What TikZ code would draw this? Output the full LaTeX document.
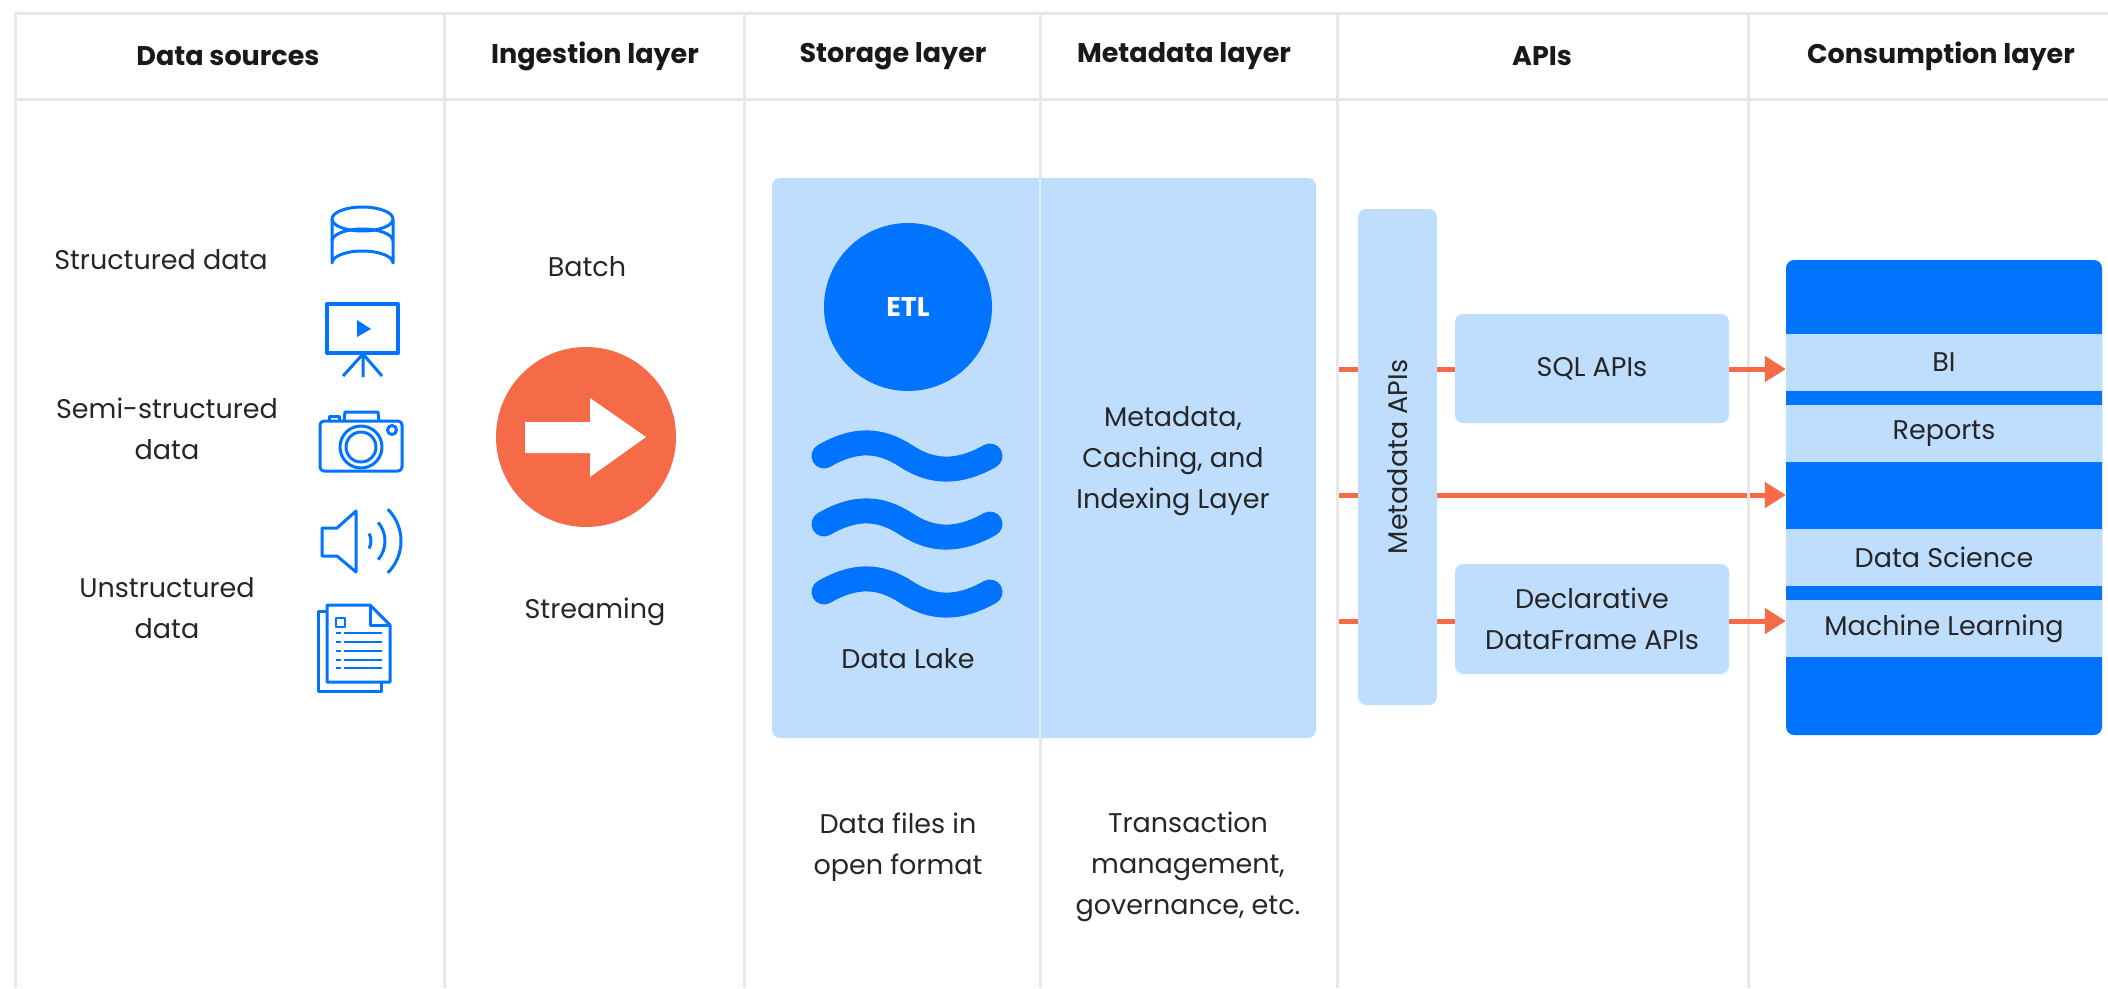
\documentclass[tikz,border=0pt]{standalone}
\usepackage{fontspec}
\setmainfont{Poppins}
\usepackage{xcolor}
\usetikzlibrary{arrows.meta, positioning, calc, backgrounds}
\definecolor{paleblue}{HTML}{BFDEFD}
\definecolor{deepblue}{HTML}{0073FF}
\definecolor{coral}{HTML}{F56B47}
\definecolor{gridgrey}{HTML}{E8E8E8}
\tikzstyle{HEAD}  = [font=\fontsize{27}{32}\selectfont\bfseries, text=black!90]
\tikzstyle{LABEL} = [align=center, font=\fontsize{27}{41}\selectfont, text=black!85]
\tikzstyle{BOX}   = [fill=paleblue,         % light panels
                     rounded corners=8pt,
                     inner sep=0pt,
                     align=center,
                     font=\fontsize{27}{41}\selectfont,
                     text=black!85]
\tikzstyle{STRIP} = [fill=paleblue,         % bands in the consumption block
                     inner sep=0pt,
                     minimum width=316pt, minimum height=57pt,
                     font=\fontsize{27}{32}\selectfont,
                     text=black!85]
\tikzstyle{ICON}  = [draw=deepblue, line width=3pt, line join=round]
\tikzstyle{WAVE}  = [draw=deepblue, line width=25pt, line cap=round]
\tikzstyle{ARROW} = [draw=coral, line width=5pt, -{Triangle[length=21pt,width=25pt]}]
\tikzstyle{LINK}  = [draw=coral, line width=5pt]

\begin{document}
\begin{tikzpicture}[x=1pt, y=-1pt]
	\useasboundingbox (0,0) rectangle (2108,988);

	% Table lines
	\draw[gridgrey, line width=3pt] (15,13) -- (2108,13);
	\draw[gridgrey, line width=3pt] (15,99) -- (2108,99);
	\foreach \x in {15,444,744,1040,1337,1748}
		\draw[gridgrey, line width=3pt] (\x,13) -- (\x,988);

	% Column heads
	\node(hsrc)[HEAD] at (228,56) {Data sources};
	\node(hing)[HEAD] at (595,56) {Ingestion layer};
	\node(hsto)[HEAD] at (893,56) {Storage layer};
	\node(hmet)[HEAD] at (1184,56) {Metadata layer};
	\node(hapi)[HEAD] at (1542,56) {APIs};
	\node(hcon)[HEAD] at (1941,56) {Consumption layer};

	% Data sources
	\node(structured)[LABEL] at (161,260) {Structured data};
	\node(semi)[LABEL] at (167,429) {Semi-structured\\data};
	\node(unstructured)[LABEL] at (167,608) {Unstructured\\data};

	% Database icon
	\draw[ICON] (332,219) -- (332,263) arc (180:0:30.5 and -12) -- (393,219);
	\draw[ICON] (362.5,219) ellipse (30.5 and 12);
	\draw[ICON] (332,241) arc (180:0:30.5 and -12);
	% Screen icon
	\draw[ICON, line width=4pt] (327,304) rectangle (398,353);
	\fill[deepblue] (357,320) -- (371,329) -- (357,337) -- cycle;
	\draw[ICON] (363,354) -- (343,376) (363,354) -- (363,377) (363,354) -- (382,376);
	% Camera icon
	\draw[ICON, rounded corners=4pt] (320,421) rectangle (402,471);
	\draw[ICON] (344,421) -- (345,412) -- (378,412) -- (379,421);
	\draw[ICON] (329,421) -- (329,416) -- (339,416) -- (339,421);
	\draw[ICON] (361,447) circle (21) (361,447) circle (15);
	\draw[ICON] (392,430) circle (4.5);
	% Speaker icon
	\coordinate (spk) at (356,541);
	\draw[ICON] (322,528) -- (337,528) -- (spk |- 0,511) -- (spk |- 0,572) -- (337,556) -- (322,556) -- cycle;
	\draw[ICON] ($(spk)+(-30:15)$) arc (-30:30:15);
	\draw[ICON] ($(spk)+(-40:29)$) arc (-40:40:29);
	\draw[ICON] ($(spk)+(-45:45)$) arc (-45:45:45);
	% Document icon
	\draw[ICON] (327,611) -- (318,611) -- (318,691) -- (381,691) -- (381,682);
	\draw[ICON] (327,605) -- (370,605) -- (390,625) -- (390,682) -- (327,682) -- cycle;
	\draw[ICON] (370,605) -- (370,625) -- (390,625);
	\draw[ICON, line width=2pt] (336,618) rectangle (345,627);
	\foreach \y in {633,642,651,660,668} {
		\draw[ICON, line width=2pt] (336,\y) -- (341,\y);
		\draw[ICON, line width=2pt] (344,\y) -- (382,\y);
	}

	% Ingestion
	\node(batch)[LABEL] at (587,267) {Batch};
	\node(ingest)[circle, fill=coral, minimum size=180pt, inner sep=0pt] at (586,437) {};
	\fill[white] (525,422) -- (590,422) -- (590,398) -- (646,437) -- (590,477) -- (590,453) -- (525,453) -- cycle;
	\node(stream)[LABEL] at (595,612) {Streaming};

	% Storage and metadata panel
	\node(lake)[BOX, minimum width=544pt, minimum height=560pt] at (1044,458) {};
	\draw[white!50!paleblue, line width=2pt] (1040,178) -- (1040,738);
	\node(etl)[circle, fill=deepblue, text=white, minimum size=168pt, inner sep=0pt,
		font=\fontsize{27}{32}\selectfont\bfseries] at (908,307) {ETL};
	\foreach \y in {456,524,592}
		\draw[WAVE] (824,\y) .. controls (855,\y-18) and (880,\y-17) .. (906,\y)
			.. controls (932,\y+17) and (958,\y+18) .. (990,\y);
	\node(lakename)[LABEL] at (908,659) {Data Lake};
	\node(cache)[LABEL] at (1173,461) {Metadata,\\Caching, and\\Indexing Layer};
	\node(files)[LABEL] at (898,847) {Data files in\\open format};
	\node(trans)[LABEL] at (1188,867) {Transaction\\management,\\governance, etc.};

	% APIs
	\node(metaapi)[BOX, minimum width=79pt, minimum height=496pt] at (1397.5,457) {};
	\node(metaname)[rotate=90, font=\fontsize{27}{32}\selectfont, text=black!85] at (metaapi) {Metadata APIs};
	\node(sql)[BOX, minimum width=274pt, minimum height=109pt] at (1592,368.5) {SQL APIs};
	\node(frame)[BOX, minimum width=274pt, minimum height=110pt, below of = sql, node distance = 250.5pt] {Declarative\\DataFrame APIs};

	% Consumption
	\node(cons)[BOX, fill=deepblue, minimum width=316pt, minimum height=475pt] at (1944,497.5) {};
	\node(bi)[STRIP] at (1944,362.5) {BI};
	\node(rep)[STRIP, below of = bi, node distance = 71pt] {Reports};
	\node(ds)[STRIP, below of = rep, node distance = 124pt] {Data Science};
	\node(ml)[STRIP, below of = ds, node distance = 71pt] {Machine Learning};

	% Free ends of the arrows
	\coordinate (ina) at (1338,369);
	\coordinate (inb) at (1338,495);
	\coordinate (inc) at (1338,621);

	\begin{pgfonlayer}{background}
		% Arrows behind the metadata APIs
		\draw[LINK] (ina) -- (ina -| sql.west);
		\draw[LINK] (inc) -- (inc -| frame.west);
		\draw[ARROW] (inb) -- (inb -| cons.west);
	\end{pgfonlayer}
	% Arrows to the consumption layer
	\draw[ARROW] (ina -| sql.east) -- (ina -| cons.west);
	\draw[ARROW] (inc -| frame.east) -- (inc -| cons.west);
\end{tikzpicture}
\end{document}
